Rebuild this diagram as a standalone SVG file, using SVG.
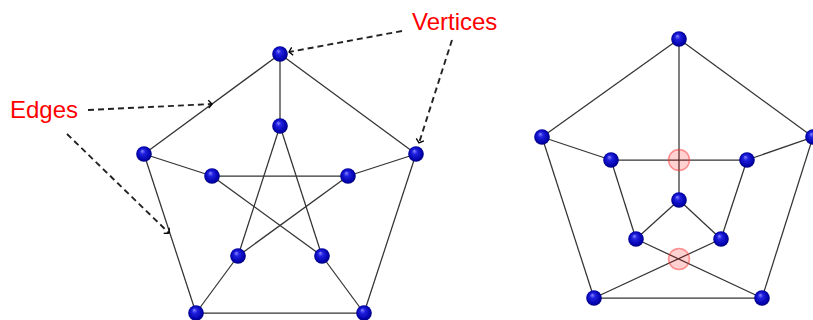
<svg xmlns="http://www.w3.org/2000/svg" width="813" height="320" viewBox="0 0 813 320">
<defs>
<radialGradient id="ball" cx="0.5" cy="0.5" r="0.55" fx="0.38" fy="0.3">
<stop offset="0" stop-color="#8a8aff"/>
<stop offset="0.3" stop-color="#2020e0"/>
<stop offset="0.8" stop-color="#0000a8"/>
<stop offset="1" stop-color="#00005a"/>
</radialGradient>
<marker id="to" markerUnits="userSpaceOnUse" markerWidth="12" markerHeight="12" viewBox="-6 -6 12 12" refX="0" refY="0" orient="auto">
<path d="M -3.5 -4 Q -1 -1.2 0 0 Q -1 1.2 -3.5 4" fill="none" stroke="#000" stroke-width="1.3"/>
</marker>
<style>
.e{stroke:#333;stroke-width:1.25;fill:none}
.d{stroke:#222;stroke-width:1.9;stroke-dasharray:6 4;fill:none;marker-end:url(#to)}
.n{fill:url(#ball)}
.x{fill:#ff0000;fill-opacity:0.18;stroke:#ff3030;stroke-opacity:0.5;stroke-width:1.5}
.t{font-family:"Liberation Sans",Arial,sans-serif;font-size:24px;fill:#ff0000}
</style>
</defs>
<g id="connectors">
<!-- left graph -->
<line class="e" x1="280" y1="54" x2="144" y2="154"/>
<line class="e" x1="280" y1="54" x2="416" y2="154"/>
<line class="e" x1="144" y1="154" x2="196" y2="313"/>
<line class="e" x1="416" y1="154" x2="364" y2="313"/>
<line class="e" x1="196" y1="313" x2="364" y2="313"/>
<line class="e" x1="280" y1="54" x2="280" y2="126"/>
<line class="e" x1="144" y1="154" x2="212" y2="176"/>
<line class="e" x1="416" y1="154" x2="348" y2="176"/>
<line class="e" x1="196" y1="313" x2="238" y2="256"/>
<line class="e" x1="364" y1="313" x2="322" y2="256"/>
<line class="e" x1="280" y1="126" x2="238" y2="256"/>
<line class="e" x1="280" y1="126" x2="322" y2="256"/>
<line class="e" x1="212" y1="176" x2="348" y2="176"/>
<line class="e" x1="212" y1="176" x2="322" y2="256"/>
<line class="e" x1="348" y1="176" x2="238" y2="256"/>
<!-- right graph -->
<line class="e" x1="679" y1="39" x2="542" y2="137"/>
<line class="e" x1="679" y1="39" x2="813" y2="137"/>
<line class="e" x1="542" y1="137" x2="594" y2="298"/>
<line class="e" x1="813" y1="137" x2="762" y2="298"/>
<line class="e" x1="594" y1="298" x2="762" y2="298"/>
<line class="e" x1="679" y1="39" x2="679" y2="200"/>
<line class="e" x1="542" y1="137" x2="611" y2="160"/>
<line class="e" x1="813" y1="137" x2="747" y2="160"/>
<line class="e" x1="611" y1="160" x2="747" y2="160"/>
<line class="e" x1="611" y1="160" x2="636" y2="239"/>
<line class="e" x1="747" y1="160" x2="721" y2="239"/>
<line class="e" x1="679" y1="200" x2="636" y2="239"/>
<line class="e" x1="679" y1="200" x2="721" y2="239"/>
<line class="e" x1="636" y1="239" x2="762" y2="298"/>
<line class="e" x1="721" y1="239" x2="594" y2="298"/>
<!-- annotation arrows -->
<line class="d" x1="88" y1="110" x2="212" y2="104"/>
<line class="d" x1="67" y1="134" x2="169" y2="233"/>
<line class="d" x1="402" y1="31" x2="289" y2="52"/>
<line class="d" x1="452" y1="40" x2="419" y2="143"/>
</g>
<g id="crossings">
<circle class="x" cx="679" cy="160" r="10.5"/>
<circle class="x" cx="679" cy="259" r="10.5"/>
</g>
<g id="left-graph">
<g id="L1"><circle class="n" cx="280" cy="54" r="7.8"/></g>
<g id="L2"><circle class="n" cx="144" cy="154" r="7.8"/></g>
<g id="L3"><circle class="n" cx="416" cy="154" r="7.8"/></g>
<g id="L4"><circle class="n" cx="196" cy="313" r="7.8"/></g>
<g id="L5"><circle class="n" cx="364" cy="313" r="7.8"/></g>
<g id="L6"><circle class="n" cx="280" cy="126" r="7.8"/></g>
<g id="L7"><circle class="n" cx="212" cy="176" r="7.8"/></g>
<g id="L8"><circle class="n" cx="348" cy="176" r="7.8"/></g>
<g id="L9"><circle class="n" cx="238" cy="256" r="7.8"/></g>
<g id="L10"><circle class="n" cx="322" cy="256" r="7.8"/></g>
</g>
<g id="right-graph">
<g id="R1"><circle class="n" cx="679" cy="39" r="7.8"/></g>
<g id="R2"><circle class="n" cx="542" cy="137" r="7.8"/></g>
<g id="R3"><circle class="n" cx="813" cy="137" r="7.8"/></g>
<g id="R4"><circle class="n" cx="594" cy="298" r="7.8"/></g>
<g id="R5"><circle class="n" cx="762" cy="298" r="7.8"/></g>
<g id="R6"><circle class="n" cx="611" cy="160" r="7.8"/></g>
<g id="R7"><circle class="n" cx="747" cy="160" r="7.8"/></g>
<g id="R8"><circle class="n" cx="679" cy="200" r="7.8"/></g>
<g id="R9"><circle class="n" cx="636" cy="239" r="7.8"/></g>
<g id="R10"><circle class="n" cx="721" cy="239" r="7.8"/></g>
</g>
<g id="label-edges"><text class="t" x="10" y="118">Edges</text></g>
<g id="label-vertices"><text class="t" x="412" y="30">Vertices</text></g>
</svg>
